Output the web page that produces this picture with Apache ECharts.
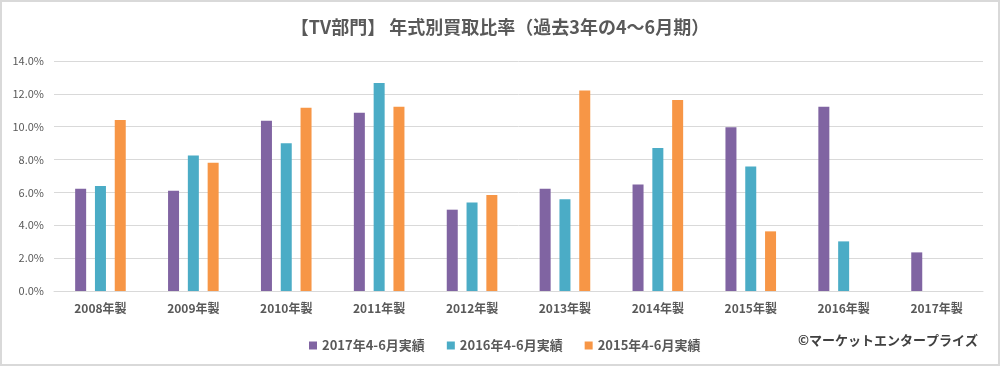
<!DOCTYPE html>
<html><head><meta charset="utf-8">
<script src="https://cdn.jsdelivr.net/npm/echarts@6/dist/echarts.min.js"></script>
<style>html,body{margin:0;padding:0;background:#fff}#c{width:1000px;height:366px}</style>
</head><body><div id="c"></div>
<script>
const categories = ['2008年製','2009年製','2010年製','2011年製','2012年製','2013年製','2014年製','2015年製','2016年製','2017年製'];
const seriesNames = ['2017年4-6月実績','2016年4-6月実績','2015年4-6月実績'];
const s2017 = [6.23, 6.10, 10.37, 10.85, 4.95, 6.23, 6.49, 9.96, 11.22, 2.35];
const s2016 = [6.39, 8.25, 9.00, 12.66, 5.39, 5.58, 8.70, 7.58, 3.02, null];
const s2015 = [10.41, 7.81, 11.16, 11.22, 5.84, 12.21, 11.62, 3.63, null, null];
const colors = ['#8064a2','#4bacc6','#f79646'];
const titleText = '【TV部門】 年式別買取比率（過去3年の4～6月期）';
const creditText = '©マーケットエンタープライズ';

const font = '"Noto Sans CJK JP", "Noto Sans", sans-serif';
const chart = echarts.init(document.getElementById('c'));
const mk = (name, data, i) => ({
  name, type: 'bar', data, barWidth: 11, barGap: '80%',
  itemStyle: { color: colors[i] }, animation: false
});
chart.setOption({
  animation: false,
  textStyle: { fontFamily: font },
  title: { text: titleText, left: 'center', top: 13,
    textStyle: { fontFamily: font, fontSize: 18, fontWeight: 'bold', color: '#595959' } },
  grid: { left: 54, right: 17, top: 61, bottom: 75, containLabel: false },
  legend: { data: seriesNames, left: 304, top: 334, itemWidth: 8, itemHeight: 8, itemGap: 22,
    icon: 'rect', textStyle: { fontFamily: font, fontSize: 13, fontWeight: 'bold', color: '#595959' } },
  xAxis: { type: 'category', data: categories,
    axisLine: { lineStyle: { color: '#d9d9d9', width: 1 } }, axisTick: { show: false },
    axisLabel: { margin: 11, fontSize: 12, fontWeight: 'bold', color: '#595959', fontFamily: font } },
  yAxis: { type: 'value', min: 0, max: 14, interval: 2,
    axisLine: { show: false }, axisTick: { show: false },
    splitLine: { lineStyle: { color: '#d9d9d9', width: 1 } },
    axisLabel: { margin: 10, fontSize: 11, color: '#595959', fontFamily: font,
      formatter: v => v.toFixed(1) + '%' } },
  series: [mk(seriesNames[0], s2017, 0), mk(seriesNames[1], s2016, 1), mk(seriesNames[2], s2015, 2)],
  graphic: [
    { type: 'rect', shape: { x: 1, y: 1, width: 998, height: 364 }, style: { fill: 'none', stroke: '#d9d9d9', lineWidth: 2 }, silent: true },
    { type: 'text', right: 22, top: 334, style: { text: creditText, font: 'bold 13px ' + font, fill: '#404040' } }
  ]
});
</script></body></html>
